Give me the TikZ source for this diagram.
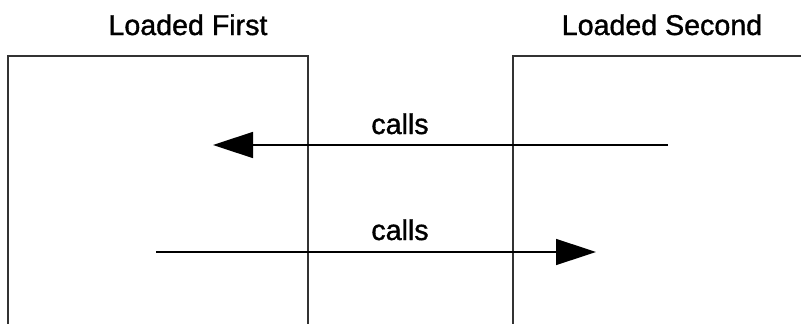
\documentclass[tikz,border=0pt]{standalone}
\usepackage{fontspec}
\setmainfont{Liberation Sans}
\newfontfamily\lblfont[FakeBold=1.2]{Liberation Sans}
\usetikzlibrary{arrows.meta}
\begin{document}
\begin{tikzpicture}[x=1pt,y=-1pt,
  boxline/.style={draw=black!80, line width=2pt},
  callarrow/.style={draw=black, line width=1.5pt, -{Triangle[length=40pt,width=26pt]}},
  lbl/.style={font=\lblfont\fontsize{28.6pt}{34pt}\selectfont, anchor=base, inner sep=0pt}]
\useasboundingbox (0,0) rectangle (801,324);
\clip (0,0) rectangle (801,324);
% boxes (open at the bottom)
\coordinate (lbTL) at (8,55.6);
\coordinate (lbTR) at (308,55.6);
\coordinate (lbBL) at (8,340);
\coordinate (lbBR) at (308,340);
\coordinate (rbTL) at (513,55.6);
\coordinate (rbTR) at (815,55.6);
\coordinate (rbBL) at (513,340);
\draw[boxline] (lbBL) -- (lbTL) -- (lbTR) -- (lbBR);
\draw[boxline] (rbBL) -- (rbTL) -- (rbTR);
% titles
\node[lbl] (first) at (188,35) {Loaded First};
\node[lbl] (second) at (662,35) {Loaded Second};
% arrows
\coordinate (a1s) at (668,145);
\coordinate (a1e) at (213,145);
\coordinate (a2s) at (156,252);
\coordinate (a2e) at (596,252);
\draw[callarrow] (a1s) -- (a1e);
\draw[callarrow] (a2s) -- (a2e);
\node[lbl] (c1) at (400,134) {calls};
\node[lbl] (c2) at (400,240) {calls};
\end{tikzpicture}
\end{document}
